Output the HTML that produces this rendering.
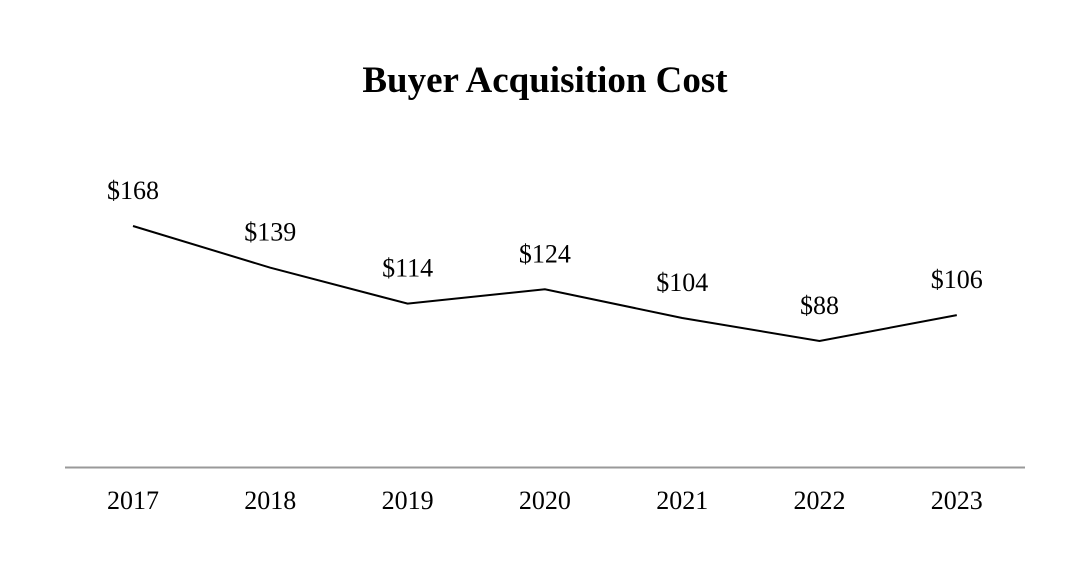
<!DOCTYPE html>
<html><head><meta charset="utf-8"><style>
html,body{margin:0;padding:0;background:#fff;}
svg{display:block;font-family:"Liberation Serif",serif;}
</style></head><body>
<svg id="chart" width="1090" height="580">
<text x="545" y="92" text-anchor="middle" font-size="37" font-weight="bold">Buyer Acquisition Cost</text>
<line x1="65" y1="467.5" x2="1025" y2="467.5" stroke="#999" stroke-width="2"/>
<g id="marks"></g>
</svg>
<script>
const categories = ["2017","2018","2019","2020","2021","2022","2023"];
const values = [168,139,114,124,104,88,106];
const valueLabels = ["$168","$139","$114","$124","$104","$88","$106"];
const x0 = 133, dx = 137.3, yBase = 467.5, pxPerUnit = 1.4375;
function xScale(i){return x0 + i*dx;}
function yScale(v){return yBase - v*pxPerUnit;}
const ns = "http://www.w3.org/2000/svg";
const g = document.getElementById('marks');
const path = document.createElementNS(ns,'path');
path.setAttribute('d', values.map((v,i)=>(i?'L':'M')+xScale(i)+' '+yScale(v)).join(' '));
path.setAttribute('fill','none');
path.setAttribute('stroke','#000');
path.setAttribute('stroke-width','2');


g.appendChild(path);
values.forEach((v,i)=>{
  const t = document.createElementNS(ns,'text');
  t.setAttribute('x', xScale(i));
  t.setAttribute('y', yScale(v)-27);
  t.setAttribute('text-anchor','middle');
  t.setAttribute('font-size','26');
  t.textContent = valueLabels[i];
  
  
  g.appendChild(t);
  const c = document.createElementNS(ns,'text');
  c.setAttribute('x', xScale(i));
  c.setAttribute('y', 509);
  c.setAttribute('text-anchor','middle');
  c.setAttribute('font-size','26');
  c.textContent = categories[i];
  
  
  g.appendChild(c);
});
</script>
</body></html>
